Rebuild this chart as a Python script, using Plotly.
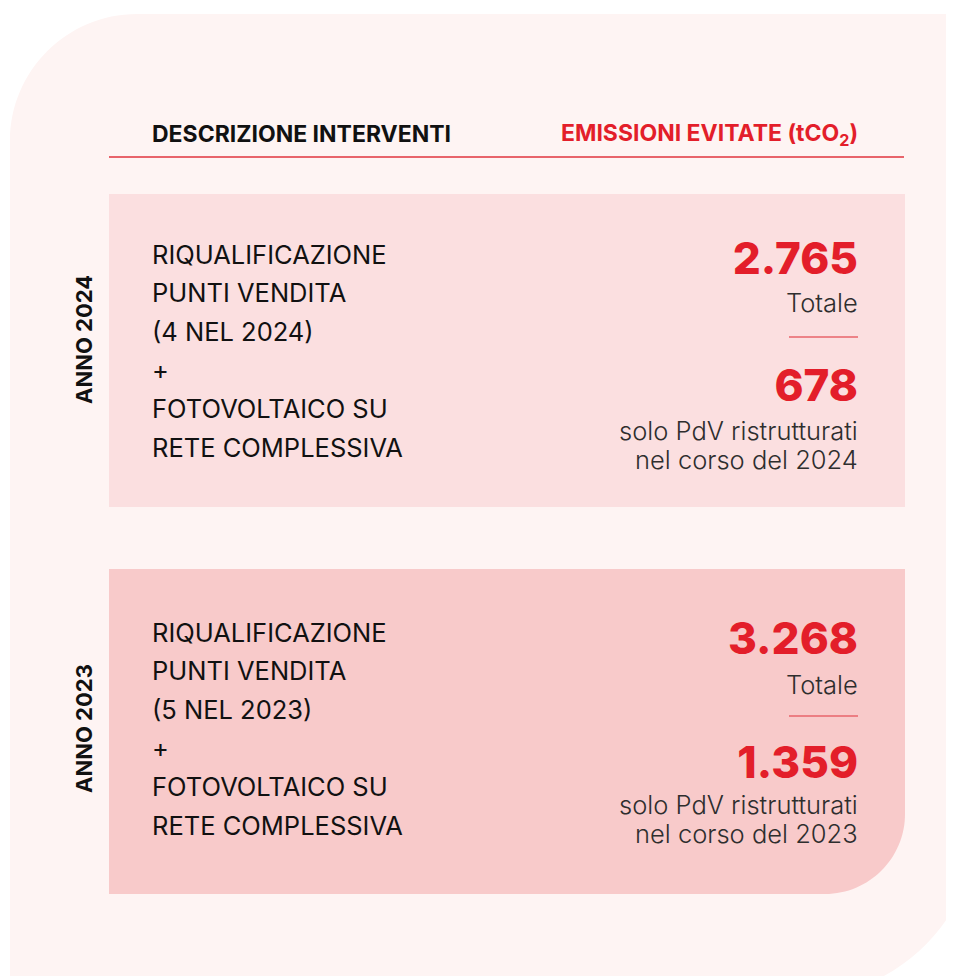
import plotly.graph_objects as go

ANNI = ["ANNO 2024", "ANNO 2023"]
TOTALI = [2765, 3268]
SOLO_PDV = [678, 1359]
DESCRIZIONI = [
    ["RIQUALIFICAZIONE", "PUNTI VENDITA", "(4 NEL 2024)", "+", "FOTOVOLTAICO SU", "RETE COMPLESSIVA"],
    ["RIQUALIFICAZIONE", "PUNTI VENDITA", "(5 NEL 2023)", "+", "FOTOVOLTAICO SU", "RETE COMPLESSIVA"],
]
NOTE_PDV = [
    ["solo PdV ristrutturati", "nel corso del 2024"],
    ["solo PdV ristrutturati", "nel corso del 2023"],
]
INTESTAZIONI = ["DESCRIZIONE INTERVENTI", "EMISSIONI EVITATE (tCO<sub>2</sub>)"]

ROSSO = "#E31E2A"
LINEA = "#E8646B"
SFONDO = "#FEF4F3"
BOX = ["#FBDFE0", "#F8CACA"]
TESTO = "#111111"
GRIGIO = "#2E2E2E"
FONT = "Inter, sans-serif"

# coordinate in pixel della pagina (il body html ha 8px di margine)
W, H, OFF = 954, 976, 8
BOX_TOP = [194, 569]
BOX_BOTTOM = [507, 894]
X_LEFT, X_RIGHT = 109, 905
X_TEXT, X_NUM = 150, 860
PASSO = 38.6
# impaginazione per box, distanze dal bordo superiore del box
DY_RIGHE = [60, 63]
DY_ANNO = [146, 160]
DY_TOT = [69, 74]        # numeri (traccia di testo, ~5px piu' in alto delle annotazioni)
DY_TOTALE = [108, 115]
DY_LINEA = [143, 147]
DY_PDV = [196, 198]
DY_NOTA = [236, 235]


def fmt(v):
    return f"{v:,}".replace(",", ".")


def testo(x, y, t, size, color, weight=400, anchor="left", angle=0):
    return dict(x=x, y=y, text=t, showarrow=False, xanchor=anchor, yanchor="middle",
                textangle=angle, font=dict(family=FONT, size=size, color=color, weight=weight))


fig = go.Figure()

shapes = [
    # sfondo con angoli arrotondati
    dict(type="path", layer="below", line=dict(width=0), fillcolor=SFONDO,
         path="M 10,1000 L 10,141 C 10,71 67,14 137,14 L 980,14 L 977,820 "
              "C 977,918 898,997 800,997 Z"),
    dict(type="line", x0=X_LEFT, x1=X_RIGHT - 1, y0=157, y1=157, line=dict(color=LINEA, width=2)),
    dict(type="rect", layer="below", x0=X_LEFT, x1=X_RIGHT, y0=BOX_TOP[0], y1=BOX_BOTTOM[0],
         line=dict(width=0), fillcolor=BOX[0]),
    dict(type="path", layer="below", line=dict(width=0), fillcolor=BOX[1],
         path=f"M {X_LEFT},{BOX_TOP[1]} L {X_RIGHT},{BOX_TOP[1]} L {X_RIGHT},814 "
              f"C {X_RIGHT},858 869,{BOX_BOTTOM[1]} 825,{BOX_BOTTOM[1]} L {X_LEFT},{BOX_BOTTOM[1]} Z"),
]

annotations = [
    testo(X_TEXT, 134, INTESTAZIONI[0], 23, TESTO, 700),
    testo(X_NUM, 134, INTESTAZIONI[1], 23, ROSSO, 700, anchor="right"),
]

y_tot, y_pdv = [], []
for i, anno in enumerate(ANNI):
    top = BOX_TOP[i]
    annotations.append(testo(84, top + DY_ANNO[i], anno, 22, TESTO, 700, anchor="center", angle=-90))
    for j, riga in enumerate(DESCRIZIONI[i]):
        annotations.append(testo(X_TEXT, top + DY_RIGHE[i] + j * PASSO, riga, 25.5, TESTO))
    annotations.append(testo(X_NUM, top + DY_TOTALE[i], "Totale", 25.5, GRIGIO, 300, anchor="right"))
    for k, riga in enumerate(NOTE_PDV[i]):
        annotations.append(testo(X_NUM, top + DY_NOTA[i] + k * 29, riga, 25.5, GRIGIO, 300,
                                 anchor="right"))
    shapes.append(dict(type="line", x0=789, x1=858, y0=top + DY_LINEA[i], y1=top + DY_LINEA[i],
                       line=dict(color=LINEA, width=1.5)))
    y_tot.append(top + DY_TOT[i])
    y_pdv.append(top + DY_PDV[i])

# valori delle emissioni evitate
for valori, ys in [(TOTALI, y_tot), (SOLO_PDV, y_pdv)]:
    fig.add_trace(go.Scatter(x=[858] * len(valori), y=ys, mode="text",
                             text=[fmt(v) for v in valori], textposition="middle left",
                             textfont=dict(family=FONT, size=44, color=ROSSO, weight=800),
                             hoverinfo="skip"))

fig.update_layout(
    width=W - OFF, height=H - OFF,
    margin=dict(l=0, r=0, t=0, b=0),
    paper_bgcolor="white", plot_bgcolor="white",
    xaxis=dict(range=[OFF, W], visible=False, fixedrange=True),
    yaxis=dict(range=[H, OFF], visible=False, fixedrange=True),
    showlegend=False,
    shapes=shapes,
    annotations=annotations,
)

fig.write_html("out.html")
